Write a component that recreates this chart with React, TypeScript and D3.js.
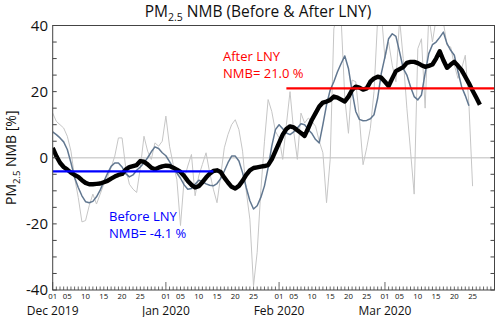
import React from 'react';
import * as d3 from 'd3';

// daily series, starting 01 Dec 2019
const startDate = new Date(Date.UTC(2019, 11, 1));
const endDate = new Date(Date.UTC(2020, 2, 31));

const dailyNmb = [
  13.5, 11.0, 10.0, 9.0, 6.5, 2.0, -6.0, -12.0, -19.4, -19.0,
  -14.5, -11.0, -14.0, -11.0, -8.0, -6.0, -3.0, 0.5, 6.0, 6.0,
  -3.0, -8.0, -9.5, -10.5, -3.0, 6.5, 2.0, -0.5, 4.5, 3.5,
  5.0, 12.6, 3.5, -2.0, -6.5, -20.5, -6.5, -2.5, 1.0, -11.5,
  -5.5, -2.0, 1.5, -4.5, -9.5, -13.6, -5.5, 3.0, 7.0, 10.0,
  11.5, 8.5, 2.0, -10.0, -18.6, -38.7, -28.6, -10.0, 5.0, 17.6,
  14.0, 8.0, 6.0, -0.5, 10.0, 20.0, 8.0, -0.5, 13.5, 10.5,
  12.0, 11.0, 9.5, 5.0, 1.5, -13.6, -0.5, 39.0, 44.0, 42.0,
  18.0, 7.4, 23.5, 23.0, 12.0, -2.1, 3.0, 8.9, 20.0, 42.0,
  44.0, 30.0, 35.0, 28.0, 23.0, 42.0, 30.0, 15.0, 2.0, -11.0,
  33.0, 36.0, 15.0, 43.0, 35.0, 42.0, 44.0, 41.0, 34.0, 33.5,
  28.0, 24.0, 27.0, 31.0, 16.0, -8.6,
];

const weeklyNmb = [
  7.8, 7.0, 6.0, 4.8, 2.5, -1.5, -6.0, -9.0, -11.5, -13.3,
  -13.6, -13.2, -11.8, -9.8, -7.2, -4.8, -2.6, -1.6, -1.6, -2.8,
  -4.8, -5.8, -5.2, -3.8, -2.8, -1.5, 0.0, 1.8, 3.3, 2.8,
  1.5, 0.6, -1.2, -3.0, -4.6, -6.2, -8.2, -9.5, -9.3, -8.0,
  -6.8, -7.2, -7.9, -8.3, -8.5, -7.8, -6.3, -4.0, -1.5, 0.5,
  0.5, -1.0, -4.5, -9.0, -13.0, -15.5, -14.5, -12.0, -8.5, -3.0,
  3.5, 8.5, 10.0, 8.8, 7.5, 7.0, 7.8, 9.0, 10.3, 10.0,
  8.5, 7.3, 5.5, 4.5, 10.0, 16.0, 20.5, 23.0, 26.0, 28.5,
  30.8, 27.0, 20.0, 14.0, 11.6, 11.2, 11.3, 11.8, 13.0, 18.0,
  25.5, 30.5, 36.0, 37.5, 36.7, 32.0, 27.0, 25.0, 21.5, 18.5,
  17.5, 19.0, 25.5, 31.5, 34.2, 35.0, 36.4, 38.0, 34.5, 32.5,
  31.0, 26.0, 21.5, 18.8, 15.7,
];

const smoothNmb = [
  3.0, 0.5, -1.5, -2.8, -3.6, -4.5, -5.2, -5.8, -6.8, -7.6,
  -8.0, -8.0, -7.9, -7.8, -7.4, -7.0, -6.3, -5.7, -5.2, -4.9,
  -3.6, -2.8, -2.5, -2.2, -1.0, -1.2, -2.0, -3.0, -3.5, -3.0,
  -2.6, -2.4, -2.5, -3.0, -3.6, -4.3, -5.5, -7.0, -8.2, -9.0,
  -8.6, -7.4, -6.0, -4.8, -4.0, -3.8, -4.3, -6.0, -7.5, -8.8,
  -9.3, -8.5, -7.0, -5.2, -3.8, -3.1, -2.9, -2.7, -2.5, -2.2,
  -0.5, 2.0, 4.5, 7.0, 8.7, 9.5, 9.2, 8.3, 7.5, 6.6,
  9.0, 11.5, 13.5, 15.5, 16.7, 17.0, 17.5, 18.5, 18.2, 17.6,
  17.0, 18.5, 20.5, 21.5, 21.2, 20.6, 21.0, 23.0, 24.0, 24.5,
  24.2, 23.0, 21.7, 24.0, 26.2, 26.8, 27.4, 28.7, 29.0, 29.0,
  28.6, 28.0, 27.5, 27.8, 28.2, 30.0, 32.2, 29.5, 27.2, 28.2,
  29.0, 27.8, 26.5, 24.5, 22.5, 20.3, 18.2, 16.0,
];

const beforeMean = -4.1;
const afterMean = 21.0;
const beforeRange = [new Date(Date.UTC(2019, 11, 1)), new Date(Date.UTC(2020, 0, 14))];
const afterRange = [new Date(Date.UTC(2020, 1, 3)), endDate];

const yTicks = [-40, -20, 0, 20, 40];
const dayLabels = [1, 5, 10, 15, 20, 25];
const monthNames = ['Dec 2019', 'Jan 2020', 'Feb 2020', 'Mar 2020'];

const FONT = '"Open Sans", "Noto Sans", sans-serif';

const dayDate = (i: number) => d3.utcDay.offset(startDate, i);

export default function App() {
  const left = 52.7, right = 494.5, top = 25.5, bottom = 290;

  const x = d3.scaleUtc().domain([startDate, endDate]).range([left, right]);
  const y = d3.scaleLinear().domain([-40, 40]).range([bottom, top]);

  const line = d3.line<number>()
    .x((_, i) => x(dayDate(i)))
    .y(v => y(v));

  const days = d3.utcDay.range(startDate, d3.utcDay.offset(endDate, 1));
  const months = d3.utcMonth.range(startDate, endDate);
  const minorY = d3.range(-40, 41, 5);

  return (
    <svg width={500} height={317} style={{ position: 'absolute', left: 0, top: 0, background: '#fff' }}
      fontFamily={FONT}>
      <defs>
        <clipPath id="plot-clip">
          <rect x={left} y={top} width={right - left} height={bottom - top} />
        </clipPath>
      </defs>

      {/* title */}
      <text x={258} y={17} textAnchor="middle" fontSize={15.5} fill="#111">
        PM<tspan fontSize={10.5} dy={4}>2.5</tspan><tspan dy={-4}> NMB (Before &amp; After LNY)</tspan>
      </text>

      {/* zero line */}
      <line x1={left} x2={right} y1={y(0)} y2={y(0)} stroke="#d2d2d2" strokeWidth={1.5} />

      <g clipPath="url(#plot-clip)" fill="none" strokeLinejoin="round">
        <path d={line(dailyNmb) ?? ''} stroke="#c6c6c6" strokeWidth={1} />
        <path d={line(weeklyNmb) ?? ''} stroke="#617790" strokeWidth={1.5} />
        <path d={line(smoothNmb) ?? ''} stroke="#000" strokeWidth={4.4} />
      </g>

      {/* before / after means */}
      <line x1={x(beforeRange[0])} x2={x(beforeRange[1])} y1={y(beforeMean)} y2={y(beforeMean)}
        stroke="#0000ff" strokeWidth={2.2} />
      <line x1={x(afterRange[0])} x2={x(afterRange[1])} y1={y(afterMean)} y2={y(afterMean)}
        stroke="#ff0000" strokeWidth={2.2} />

      <text x={223} y={61} fontSize={13} fill="#ff0000">After LNY</text>
      <text x={223} y={78} fontSize={13} fill="#ff0000">NMB= {afterMean.toFixed(1)} %</text>
      <text x={109} y={221} fontSize={13} fill="#0000ff">Before LNY</text>
      <text x={109} y={238} fontSize={13} fill="#0000ff">NMB= {beforeMean.toFixed(1)} %</text>

      {/* frame */}
      <rect x={left} y={top} width={right - left} height={bottom - top} fill="none" stroke="#444" strokeWidth={1} />

      {/* y ticks, both sides pointing in */}
      {minorY.map(v => (
        <g key={v} stroke="#444">
          <line x1={left} x2={left + 4} y1={y(v)} y2={y(v)} />
          <line x1={right - 4} x2={right} y1={y(v)} y2={y(v)} />
        </g>
      ))}
      {yTicks.map(v => (
        <text key={v} x={48} y={y(v) + 5} textAnchor="end" fontSize={15} fill="#111">{v}</text>
      ))}

      {/* y label */}
      <text transform={`translate(16,${y(0)}) rotate(-90)`} textAnchor="middle" fontSize={14} fill="#111">
        PM<tspan fontSize={9.5} dy={3.5}>2.5</tspan><tspan dy={-3.5}> NMB [%]</tspan>
      </text>

      {/* x ticks: daily minor, monthly major */}
      {days.map(d => {
        const major = d.getUTCDate() === 1;
        return (
          <line key={+d} x1={x(d)} x2={x(d)} y1={bottom} y2={bottom - (major ? 8 : 3.5)} stroke="#444" strokeWidth={0.8} />
        );
      })}
      {months.map((m, mi) => (
        <g key={+m}>
          {dayLabels.map(dl => {
            const d = d3.utcDay.offset(m, dl - 1);
            return (
              <text key={dl} x={x(d)} y={299} textAnchor="middle" fontSize={7.8} fill="#111">
                {d3.utcFormat('%d')(d)}
              </text>
            );
          })}
          <text x={x(m)} y={314.5} textAnchor="middle" fontSize={12} fill="#111">{monthNames[mi]}</text>
        </g>
      ))}
    </svg>
  );
}
